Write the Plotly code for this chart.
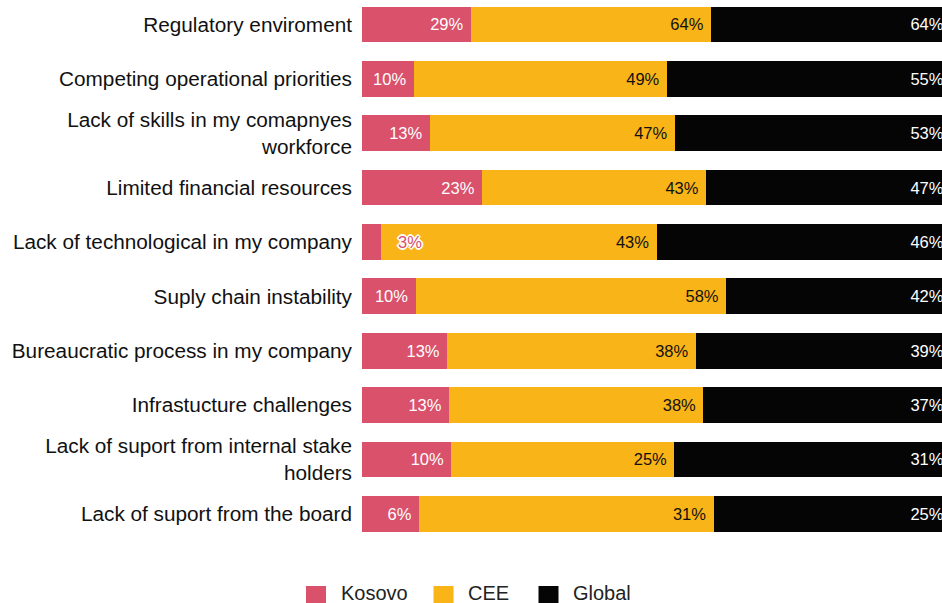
import plotly.graph_objects as go

# Survey data: share of respondents naming each barrier, by region
barriers = [
    "Regulatory enviroment",
    "Competing operational priorities",
    "Lack of skills in my comapnyes workforce",
    "Limited financial resources",
    "Lack of technological in my company",
    "Suply chain instability",
    "Bureaucratic process in my company",
    "Infrastucture challenges",
    "Lack of suport from internal stake holders",
    "Lack of suport from the board",
]
tick_labels = [
    "Regulatory enviroment",
    "Competing operational priorities",
    "Lack of skills in my comapnyes<br>workforce",
    "Limited financial resources",
    "Lack of technological in my company",
    "Suply chain instability",
    "Bureaucratic process in my company",
    "Infrastucture challenges",
    "Lack of suport from internal stake<br>holders",
    "Lack of suport from the board",
]
kosovo = [29, 10, 13, 23, 3, 10, 13, 13, 10, 6]
cee = [64, 49, 47, 43, 43, 58, 38, 38, 25, 31]
global_ = [64, 55, 53, 47, 46, 42, 39, 37, 31, 25]

series_names = ["Kosovo", "CEE", "Global"]
series_values = [kosovo, cee, global_]
colors = ["#D9516B", "#F9B418", "#050505"]
text_colors = ["#FFFFFF", "#111111", "#FFFFFF"]

FONT = "Liberation Sans, Arial, sans-serif"
W, H = 942, 603
M_L, M_R, M_T, M_B = 362, 0, 0, 62
PLOT_W = W - M_L - M_R
PLOT_H = H - M_T - M_B
MIN_SHARE = 5  # bars narrower than this (in %) get their label beside the bar

totals = [sum(v) for v in zip(*series_values)]

fig = go.Figure()
annotations = []
for name, vals, col, tcol in zip(series_names, series_values, colors, text_colors):
    labels = []
    for cat, v, tot in zip(barriers, vals, totals):
        share = 100 * v / tot
        if share < MIN_SHARE:
            labels.append("")
            annotations.append(dict(
                x=share, y=cat, xref="x", yref="y",
                text=f"{v}%", showarrow=False,
                xanchor="left", yanchor="middle", xshift=15,
                font=dict(family=FONT, size=16.5, color=col,
                          shadow="2px 0 0 #fff, -2px 0 0 #fff, 0 2px 0 #fff, 0 -2px 0 #fff, "
                                 "1px 1px 0 #fff, -1px -1px 0 #fff, 1px -1px 0 #fff, -1px 1px 0 #fff"),
            ))
        else:
            labels.append(f"{v}%\u00a0")
    fig.add_trace(go.Bar(
        name=name, y=barriers, x=vals, orientation="h",
        marker=dict(color=col, line=dict(width=0)),
        text=labels, textposition="inside", insidetextanchor="end",
        textangle=0, constraintext="none",
        textfont=dict(family=FONT, size=16.5, color=tcol),
        showlegend=False,
    ))

# Legend drawn as swatches + labels below the plot
legend_items = [("Kosovo", colors[0], 306), ("CEE", colors[1], 433.5), ("Global", colors[2], 538.5)]
SW = 20
LEG_CY = 596


def px_to_xpaper(px):
    return (px - M_L) / PLOT_W


def py_to_ypaper(py):
    return (M_T + PLOT_H - py) / PLOT_H


shapes = []
for label, col, x0 in legend_items:
    shapes.append(dict(
        type="rect", xref="paper", yref="paper",
        x0=px_to_xpaper(x0), x1=px_to_xpaper(x0 + SW),
        y0=py_to_ypaper(LEG_CY + SW / 2), y1=py_to_ypaper(LEG_CY - SW / 2),
        fillcolor=col, line=dict(width=0),
    ))
    annotations.append(dict(
        x=px_to_xpaper(x0 + 32.5), y=py_to_ypaper(LEG_CY - 3),
        xref="paper", yref="paper", text=label, showarrow=False,
        xanchor="left", yanchor="middle",
        font=dict(family=FONT, size=20, color="#222222"),
    ))

fig.update_layout(
    barmode="stack",
    barnorm="percent",
    bargap=0.343,
    width=W, height=H,
    margin=dict(l=M_L, r=M_R, t=M_T, b=M_B, autoexpand=False),
    paper_bgcolor="white", plot_bgcolor="white",
    font=dict(family=FONT, size=20, color="#111111"),
    xaxis=dict(range=[0, 100 * PLOT_W / 589], visible=False, fixedrange=True),
    yaxis=dict(
        categoryorder="array", categoryarray=barriers,
        tickmode="array", tickvals=barriers, ticktext=tick_labels,
        range=[9.5, -0.45], ticks="", showline=False, showgrid=False,
        tickfont=dict(family=FONT, size=20.75, color="#111111"),
        ticklabelstandoff=9, automargin=False,
    ),
    shapes=shapes,
    annotations=annotations,
    showlegend=False,
)

fig.write_html("out.html")
